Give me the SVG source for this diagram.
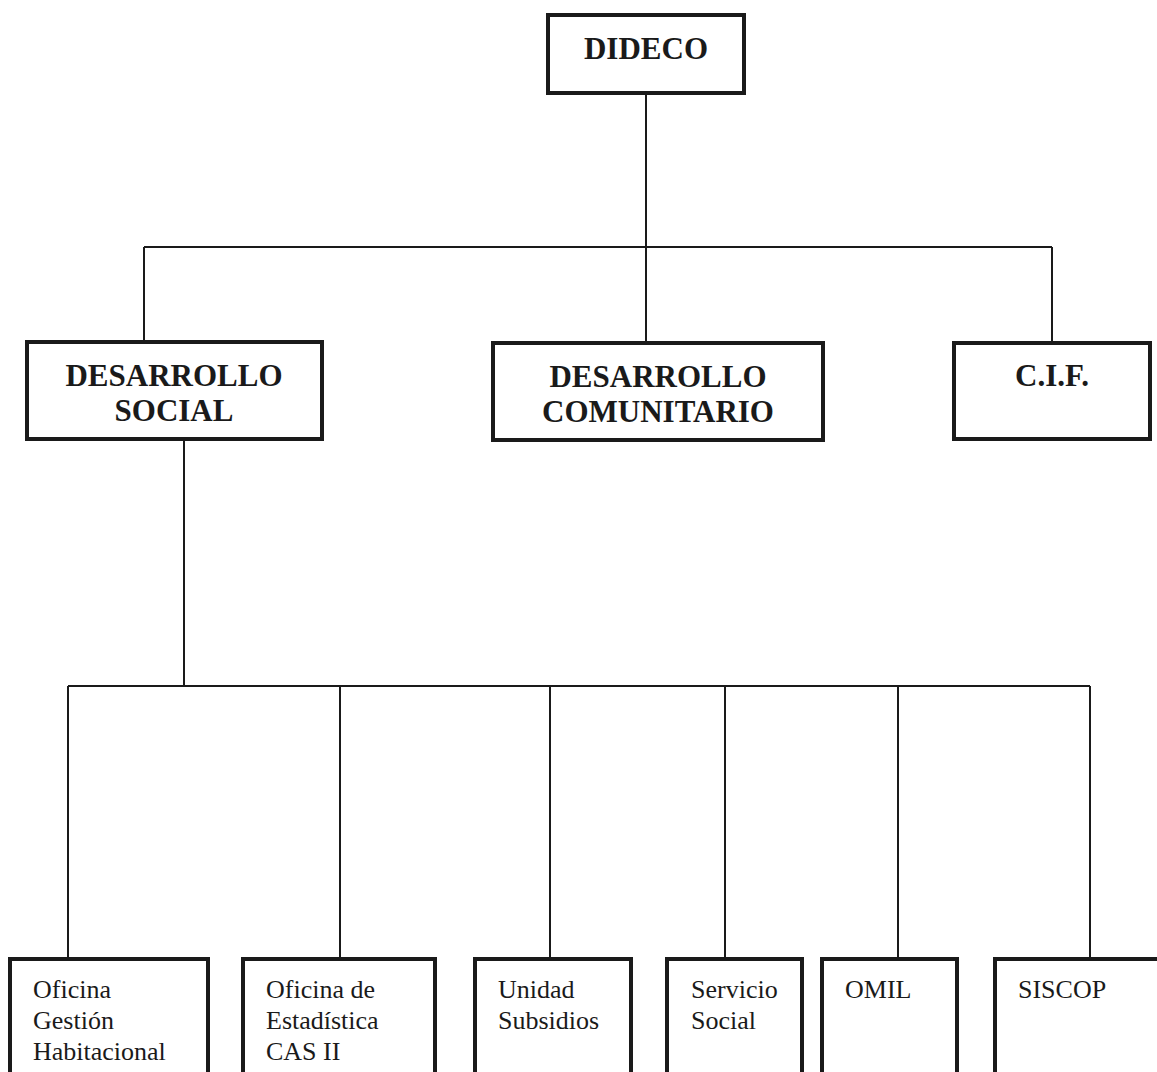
<svg xmlns="http://www.w3.org/2000/svg" width="1157" height="1072" viewBox="0 0 1157 1072">
<style>
.box{fill:#fff;stroke:#1a1a1a;stroke-width:4}
.ln{stroke:#1a1a1a;stroke-width:2;fill:none}
.t1{font-family:"Liberation Serif",serif;font-weight:bold;font-size:31px;fill:#1a1a1a;text-anchor:middle}
.t2{font-family:"Liberation Serif",serif;font-size:26px;fill:#1a1a1a}
</style>
<rect width="1157" height="1072" fill="#fff"/>
<g id="connectors">
<path class="ln" d="M646 94V247M144 247H1052M144 247V342M646 247V343M1052 247V343"/>
<path class="ln" d="M184 439V686M68 686H1090M68 686V959M340 686V959M550 686V959M725 686V959M898 686V959M1090 686V959"/>
</g>
<g id="dideco"><rect class="box" x="548" y="15" width="196" height="78"/><text class="t1" x="646" y="59">DIDECO</text></g>
<g id="desarrollo-social"><rect class="box" x="27" y="342" width="295" height="97"/><text class="t1" x="174" y="386">DESARROLLO</text><text class="t1" x="174" y="421">SOCIAL</text></g>
<g id="desarrollo-comunitario"><rect class="box" x="493" y="343" width="330" height="97"/><text class="t1" x="658" y="387">DESARROLLO</text><text class="t1" x="658" y="422">COMUNITARIO</text></g>
<g id="cif"><rect class="box" x="954" y="343" width="196" height="96"/><text class="t1" x="1052" y="386">C.I.F.</text></g>
<g id="oficina-gestion"><rect class="box" x="10" y="959" width="198" height="130"/><text class="t2" x="33" y="998">Oficina</text><text class="t2" x="33" y="1029">Gestión</text><text class="t2" x="33" y="1060">Habitacional</text></g>
<g id="oficina-estadistica"><rect class="box" x="243" y="959" width="192" height="130"/><text class="t2" x="266" y="998">Oficina de</text><text class="t2" x="266" y="1029">Estadística</text><text class="t2" x="266" y="1060">CAS II</text></g>
<g id="unidad-subsidios"><rect class="box" x="475" y="959" width="156" height="130"/><text class="t2" x="498" y="998">Unidad</text><text class="t2" x="498" y="1029">Subsidios</text></g>
<g id="servicio-social"><rect class="box" x="667" y="959" width="135" height="130"/><text class="t2" x="691" y="998">Servicio</text><text class="t2" x="691" y="1029">Social</text></g>
<g id="omil"><rect class="box" x="822" y="959" width="135" height="130"/><text class="t2" x="845" y="998">OMIL</text></g>
<g id="siscop"><rect class="box" x="995" y="959" width="180" height="130"/><text class="t2" x="1018" y="998">SISCOP</text></g>
</svg>
